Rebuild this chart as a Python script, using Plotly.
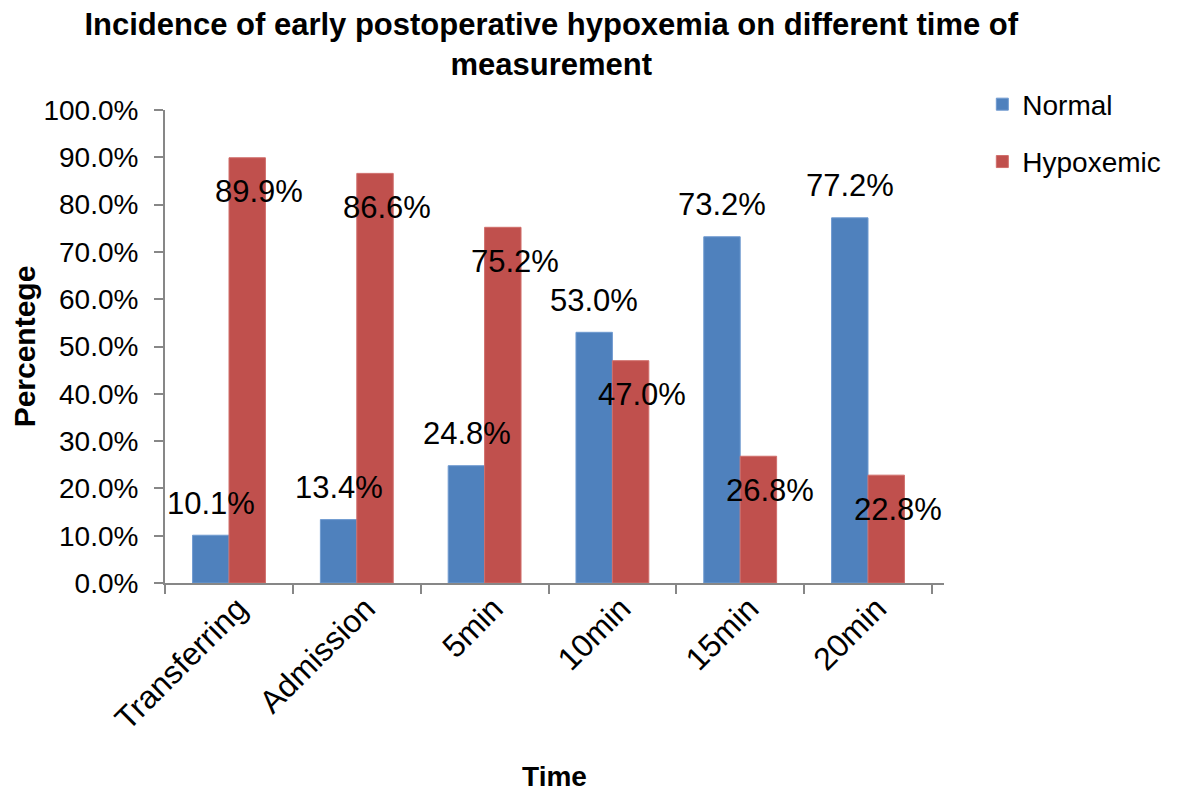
import plotly.graph_objects as go

categories = ["Transferring", "Admission", "5min", "10min", "15min", "20min"]
normal = [0.101, 0.134, 0.248, 0.530, 0.732, 0.772]
hypoxemic = [0.899, 0.866, 0.752, 0.470, 0.268, 0.228]
series_names = ["Normal", "Hypoxemic"]
y_ticks = [0.0, 0.1, 0.2, 0.3, 0.4, 0.5, 0.6, 0.7, 0.8, 0.9, 1.0]

FONT = "Liberation Sans, Arial, sans-serif"
BLUE = "#4F81BD"
RED = "#C0504D"
AXIS = "#878787"

fig = go.Figure()
fig.add_trace(go.Bar(x=categories, y=normal, name=series_names[0],
                     marker=dict(color=BLUE, line=dict(color="#6F9AD0", width=1)),
                     legendgroup="a"))
fig.add_trace(go.Bar(x=categories, y=hypoxemic, name=series_names[1],
                     marker=dict(color=RED, line=dict(color="#D06E6B", width=1)),
                     legendgroup="b"))

for c, v in zip(categories, normal):
    fig.add_annotation(x=c, y=v, text=f"{v*100:.1f}%", showarrow=False,
                       xshift=-18, yshift=32, yanchor="middle",
                       font=dict(family=FONT, size=31, color="black"))
for c, v in zip(categories, hypoxemic):
    fig.add_annotation(x=c, y=v, text=f"{v*100:.1f}%", showarrow=False,
                       xshift=30, yshift=-34, yanchor="middle",
                       font=dict(family=FONT, size=31, color="black"))

fig.update_layout(
    width=1181, height=794,
    margin=dict(l=157, r=245, t=102, b=219, autoexpand=False),
    paper_bgcolor="white", plot_bgcolor="white",
    barmode="group", bargap=0.43, bargroupgap=0,
    title=dict(text="<b>Incidence of early postoperative hypoxemia on different time of<br>measurement</b>",
               x=0.46, xanchor="center", y=0.966, yanchor="top",
               font=dict(family=FONT, size=31, color="black")),
    legend=dict(xref="container", yref="container", x=0.825, xanchor="left",
                y=0.91, yanchor="top",
                traceorder="grouped", tracegroupgap=18,
                font=dict(family=FONT, size=28, color="black"),
                itemwidth=30, bgcolor="rgba(0,0,0,0)"),
    showlegend=True,
    xaxis=dict(type="category", showline=True, linecolor=AXIS, linewidth=2, automargin=False,
               ticks="outside", tickson="boundaries", ticklen=9, tickcolor=AXIS, tickwidth=2,
               tickangle=-45, tickfont=dict(family=FONT, size=32, color="black"),
               ticklabelstandoff=-8, ticklabelshift=9,
               title=dict(text="<b>Time</b>", font=dict(family=FONT, size=28, color="black"), standoff=31),
               showgrid=False, zeroline=False),
    yaxis=dict(range=[0, 1], tickvals=y_ticks, tickformat=".1%", automargin=False,
               showline=True, linecolor=AXIS, linewidth=2,
               ticks="outside", ticklen=9, tickcolor=AXIS, tickwidth=2,
               tickfont=dict(family=FONT, size=28, color="black"), ticklabelstandoff=10,
               title=dict(text="<b>Percentege</b>", font=dict(family=FONT, size=30, color="black"), standoff=0),
               showgrid=False, zeroline=False),
)

fig.write_html("out.html")
